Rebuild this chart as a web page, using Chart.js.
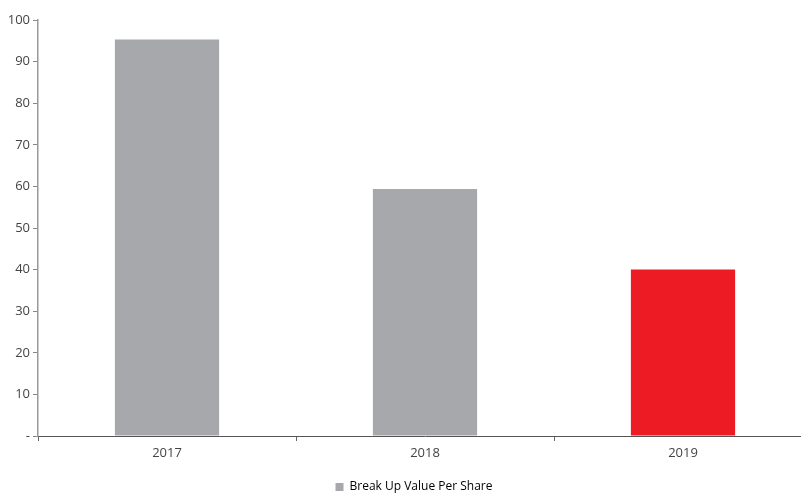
<!DOCTYPE html>
<html>
<head>
<meta charset="utf-8">
<script src="https://cdn.jsdelivr.net/npm/chart.js@4"></script>
<style>
    html, body { margin: 0; padding: 0; background: #fff; overflow: hidden; }
    #wrap { width: 812px; height: 495px; }
</style>
</head>
<body>
<div id="wrap"><canvas id="bvps-chart" width="812" height="495"></canvas></div>
<script>
// Break up value per share
const years = ['2017', '2018', '2019'];
const breakUpValues = [95.3, 59.4, 40.0];
const barColors = ['#a7a8ab', '#a7a8ab', '#ed1c24'];
const yTicks = [0, 10, 20, 30, 40, 50, 60, 70, 80, 90, 100];

const fontFamily = '"Open Sans", sans-serif';

// nudge the legend a little right and down, like the original report
const legendNudge = {
    id: 'legendNudge',
    afterLayout: function(chart) {
        const lg = chart.legend;
        if (!lg) return;
        lg.left += 8;
        lg.right += 8;
        lg.top += 8;
        lg.bottom += 8;
    }
};

const ctx = document.getElementById('bvps-chart').getContext('2d');

const chart = new Chart(ctx, {
    type: 'bar',
    data: {
        labels: years,
        datasets: [{
            label: 'Break Up Value Per Share',
            data: breakUpValues,
            backgroundColor: barColors,
            borderWidth: 0,
            categoryPercentage: 1,
            barPercentage: 0.404
        }]
    },
    plugins: [legendNudge],
    options: {
        responsive: false,
        animation: false,
        layout: {
            padding: { top: 20, right: 0, bottom: 0, left: 0 }
        },
        plugins: {
            tooltip: { enabled: false },
            legend: {
                position: 'bottom',
                labels: {
                    boxWidth: 8,
                    boxHeight: 8,
                    padding: 10,
                    color: '#555',
                    font: { family: fontFamily, size: 12 },
                    generateLabels: function(chart) {
                        return [{
                            text: 'Break Up Value Per Share',
                            fillStyle: '#a7a8ab',
                            strokeStyle: '#a7a8ab',
                            lineWidth: 0,
                            datasetIndex: 0
                        }];
                    }
                }
            }
        },
        scales: {
            x: {
                grid: {
                    display: true,
                    drawOnChartArea: false,
                    tickLength: 5,
                    color: '#666'
                },
                border: { color: '#555', width: 1 },
                ticks: {
                    color: '#444',
                    padding: 4,
                    font: { family: fontFamily, size: 13 }
                },
                afterFit: function(scale) { scale.height = 27; }
            },
            y: {
                min: 0,
                max: 100,
                afterBuildTicks: function(scale) {
                    scale.ticks = yTicks.map(v => ({ value: v }));
                },
                grid: {
                    display: true,
                    drawOnChartArea: false,
                    tickLength: 5,
                    color: '#888'
                },
                border: { color: '#999', width: 1.5 },
                ticks: {
                    color: '#444',
                    padding: 3,
                    font: { family: fontFamily, size: 13 },
                    callback: function(value) {
                        return value === 0 ? '-' : value;
                    }
                },
                afterFit: function(scale) { scale.width = 38; }
            }
        }
    }
});
</script>
</body>
</html>
